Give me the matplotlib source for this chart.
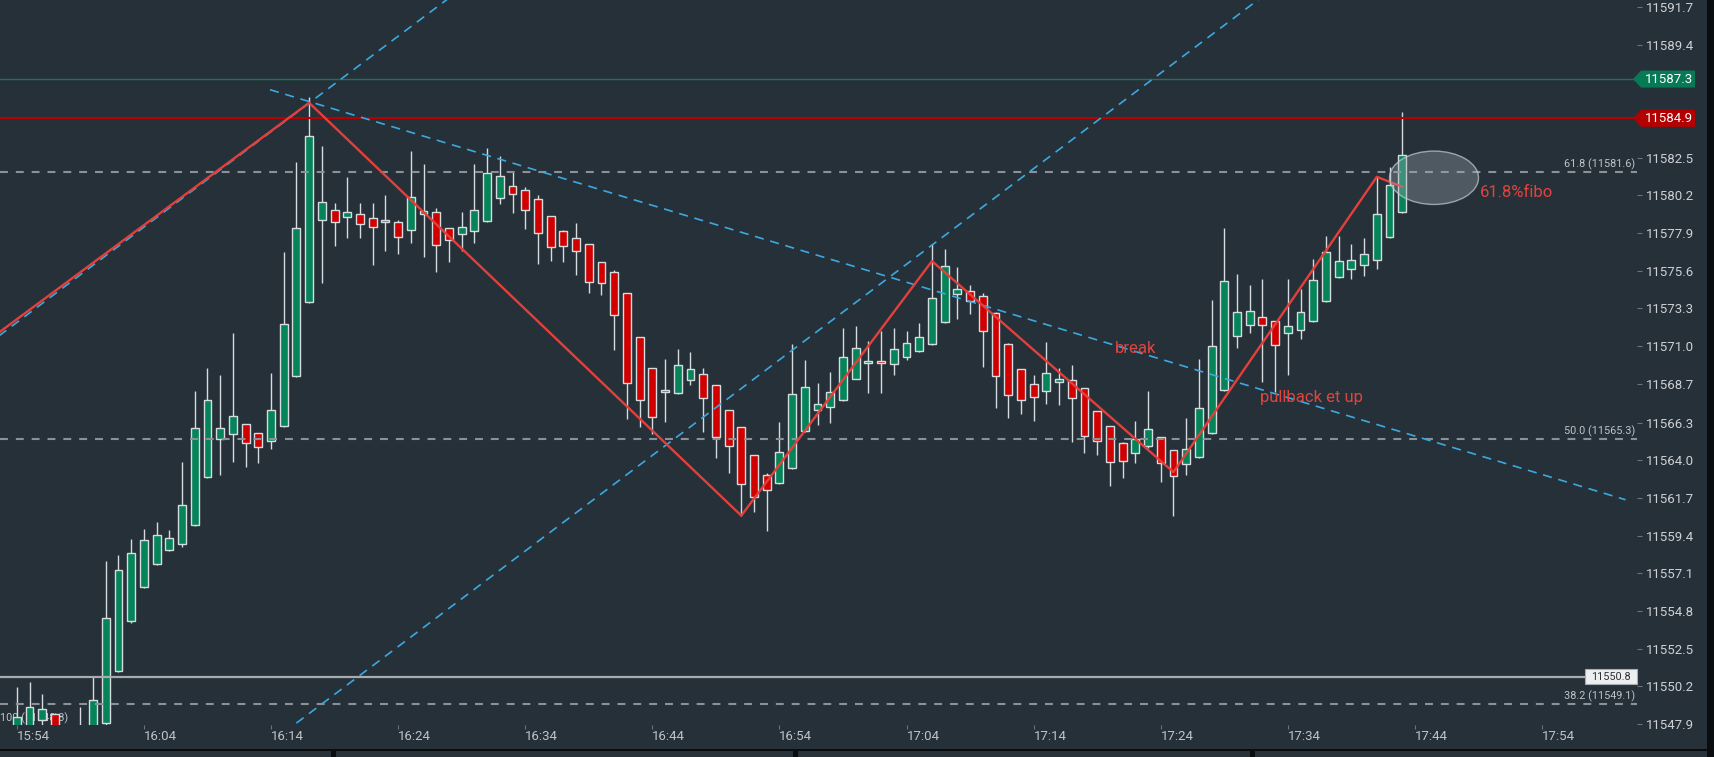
import numpy as np
import matplotlib.pyplot as plt
from matplotlib.patches import Ellipse, Polygon, Rectangle
from matplotlib import transforms

plt.rcParams['font.family'] = ['Roboto', 'DejaVu Sans']

# ---- data (1-minute candles from 15:54) ----
opens = [11547.3, 11547.5, 11548.15, 11548.5, 11547.0, 11546.8, 11547.6, 11547.95, 11551.14, 11554.17,
         11556.25, 11557.66, 11558.51, 11558.88, 11560.04, 11562.97, 11565.29, 11565.60, 11566.21, 11565.66,
         11565.17, 11566.09, 11569.18, 11573.66, 11578.67, 11579.28, 11578.85, 11579.04, 11578.79, 11578.55,
         11578.55, 11578.06, 11579.04, 11579.16, 11578.18, 11577.82, 11578.00, 11578.61, 11580.01, 11580.75,
         11580.50, 11579.95, 11578.91, 11578.00, 11577.57, 11577.20, 11576.10, 11575.49, 11574.21, 11571.52,
         11569.63, 11568.16, 11568.10, 11568.90, 11569.26, 11568.59, 11567.06, 11566.03, 11564.31, 11563.09,
         11562.60, 11563.52, 11565.78, 11567.06, 11567.25, 11567.67, 11568.96, 11569.93, 11570.05, 11569.87,
         11570.30, 11570.67, 11571.10, 11572.44, 11574.15, 11574.33, 11574.03, 11573.00, 11571.10, 11569.57,
         11568.65, 11568.22, 11568.77, 11568.90, 11568.41, 11567.00, 11566.09, 11565.05, 11564.44, 11564.86,
         11565.42, 11564.62, 11563.76, 11564.19, 11565.66, 11568.29, 11571.58, 11572.25, 11572.74, 11572.50,
         11571.77, 11571.95, 11572.50, 11573.72, 11575.20, 11575.68, 11575.92, 11576.23, 11577.63, 11579.16]
highs = [11550.16, 11550.45, 11549.73, 11548.6, 11547.5, 11548.96, 11550.79, 11557.86, 11558.22, 11559.18,
         11559.81, 11560.22, 11559.75, 11563.89, 11568.24, 11569.63, 11569.22, 11571.77, 11566.25, 11565.70,
         11569.32, 11576.72, 11582.21, 11586.22, 11583.21, 11579.71, 11581.30, 11579.71, 11579.71, 11580.20,
         11578.69, 11582.90, 11582.11, 11579.40, 11578.22, 11579.16, 11582.11, 11583.07, 11582.58, 11581.66,
         11580.69, 11580.20, 11578.95, 11578.05, 11578.49, 11577.25, 11576.15, 11575.63, 11574.25, 11571.55,
         11569.65, 11570.22, 11570.81, 11570.62, 11569.65, 11568.62, 11567.10, 11566.05, 11564.35, 11563.21,
         11566.33, 11571.10, 11570.12, 11568.71, 11569.39, 11572.07, 11572.19, 11571.28, 11571.89, 11572.07,
         11571.89, 11572.38, 11577.20, 11576.92, 11575.82, 11574.70, 11574.21, 11573.05, 11571.15, 11569.60,
         11569.20, 11571.22, 11569.63, 11569.81, 11568.45, 11567.05, 11566.10, 11565.10, 11566.39, 11568.22,
         11565.45, 11564.65, 11566.57, 11570.18, 11573.78, 11578.18, 11575.39, 11574.72, 11575.07, 11572.55,
         11575.07, 11574.46, 11576.29, 11577.69, 11577.69, 11577.20, 11577.57, 11581.30, 11581.91, 11585.27]
lows = [11546.8, 11547.0, 11547.5, 11547.2, 11546.5, 11546.3, 11547.2, 11547.6, 11551.1, 11554.1,
        11556.2, 11557.6, 11558.45, 11558.73, 11560.0, 11562.9, 11563.11, 11563.92, 11563.62, 11563.86,
        11564.72, 11566.05, 11569.1, 11573.6, 11574.86, 11577.12, 11577.61, 11577.61, 11575.96, 11576.80,
        11576.63, 11577.30, 11576.45, 11575.53, 11576.14, 11576.81, 11577.30, 11578.55, 11579.65, 11579.13,
        11578.16, 11576.02, 11576.20, 11576.14, 11575.35, 11574.25, 11574.13, 11570.77, 11566.55, 11566.06,
        11565.63, 11566.37, 11568.05, 11568.63, 11565.76, 11564.17, 11563.25, 11560.63, 11560.87, 11559.70,
        11562.55, 11563.50, 11565.75, 11566.15, 11566.27, 11567.65, 11568.95, 11568.14, 11568.14, 11569.24,
        11570.15, 11570.65, 11571.05, 11572.40, 11572.66, 11572.93, 11569.69, 11567.18, 11566.61, 11566.86,
        11566.43, 11567.43, 11567.37, 11565.14, 11564.47, 11564.35, 11562.46, 11562.95, 11563.86, 11564.74,
        11562.67, 11560.63, 11563.09, 11564.15, 11565.60, 11568.25, 11570.85, 11571.77, 11568.81, 11568.20,
        11569.24, 11571.44, 11572.45, 11573.70, 11575.13, 11575.07, 11575.25, 11575.71, 11577.60, 11579.10]
closes = [11548.33, 11548.96, 11548.8, 11547.6, 11547.3, 11547.6, 11549.37, 11554.36, 11557.29, 11558.33,
          11559.12, 11559.43, 11559.24, 11561.26, 11565.96, 11567.67, 11565.96, 11566.70, 11565.05, 11564.80,
          11567.06, 11572.32, 11578.18, 11583.80, 11579.77, 11578.55, 11579.16, 11578.43, 11578.24, 11578.67,
          11577.63, 11580.07, 11579.22, 11577.14, 11577.45, 11578.24, 11579.28, 11581.54, 11581.36, 11580.26,
          11579.28, 11577.88, 11577.02, 11577.08, 11576.78, 11574.88, 11574.82, 11572.87, 11568.71, 11567.67,
          11566.64, 11568.30, 11569.81, 11569.57, 11567.80, 11565.45, 11564.86, 11562.54, 11561.75, 11562.18,
          11564.50, 11568.04, 11568.47, 11567.43, 11568.16, 11570.30, 11570.85, 11570.05, 11569.93, 11570.79,
          11571.16, 11571.52, 11573.90, 11575.86, 11574.46, 11573.72, 11571.89, 11569.14, 11567.98, 11567.67,
          11567.86, 11569.32, 11568.96, 11567.80, 11565.48, 11565.17, 11563.89, 11563.95, 11565.29, 11565.90,
          11563.83, 11563.03, 11564.68, 11567.19, 11570.97, 11574.94, 11573.05, 11573.11, 11572.25, 11571.03,
          11572.19, 11573.05, 11575.00, 11576.72, 11576.17, 11576.23, 11576.59, 11579.04, 11580.81, 11582.64]

time_ticks = [0, 10, 20, 30, 40, 50, 60, 70, 80, 90, 100, 110, 120]
time_labels = ['15:54', '16:04', '16:14', '16:24', '16:34', '16:44', '16:54',
               '17:04', '17:14', '17:24', '17:34', '17:44', '17:54']
# 11587.1 and 11584.8 sit under the level badges, so they carry no label
price_ticks = [11591.7, 11589.4, 11587.1, 11584.8, 11582.5, 11580.2, 11577.9, 11575.6, 11573.3, 11571.0,
               11568.7, 11566.3, 11564.0, 11561.7, 11559.4, 11557.1, 11554.8, 11552.5, 11550.2, 11547.9]
hidden_ticks = [11587.1, 11584.8]

fib_pcts = ['61.8', '50.0', '38.2']
fib_prices = [11581.6, 11565.3, 11549.1]
green_level = 11587.3
red_level = 11584.9
gray_level = 11550.8

# zigzag (minutes from 15:54, price)
zz_minutes = [-3, 23, 57, 72, 91, 107, 109]
zz_prices = [11570.90, 11585.85, 11560.63, 11576.18, 11563.29, 11581.33, 11580.72]
# dashed trend / channel lines
trend_lines = [
    ([-3, 34], [11570.68, 11592.25]),
    ([20, 98], [11546.79, 11592.34]),
    ([19.92, 126.57], [11586.65, 11561.60]),
]

BG = '#263038'
GREEN = '#05845a'
RED = '#d10000'
WICK = '#d6dbdf'
TXT = '#cdd1d5'

W, H = 1714, 757
fig = plt.figure(figsize=(W / 100, H / 100), dpi=100, facecolor=BG)
ax = fig.add_axes([0, 32 / H, 1637 / W, 725 / H])
ax.set_facecolor(BG)
for s in ax.spines.values():
    s.set_visible(False)
ax.set_xlim(-1.322, 127.47)
ax.set_ylim(11547.84, 11592.13)

# candles
o, h, l, c = map(np.array, (opens, highs, lows, closes))
t = np.arange(len(o))
up = c >= o
ax.vlines(t, l, h, color=WICK, lw=1.0, zorder=2)
body = np.maximum(np.abs(c - o), 0.12)
ax.bar(t, body, bottom=np.minimum(o, c), width=0.62, color=np.where(up, GREEN, RED),
       edgecolor=WICK, linewidth=1.0, zorder=3)

# horizontal levels
ax.axhline(green_level, color='#13785b', lw=1.0, zorder=4)
ax.axhline(red_level, color='#b80000', lw=1.5, zorder=4)
ax.axhline(gray_level, color='#a8acb0', lw=1.6, zorder=4)
for pct, p in zip(fib_pcts, fib_prices):
    ax.axhline(p, color='#8b9197', lw=1.5, ls=(0, (3.8, 3.8)), zorder=4)
    ax.text(127.3, p + 0.5, f'{pct} ({p:.1f})', color='#bfc4c8', fontsize=7.8,
            ha='right', va='center', zorder=4)

# trend lines and zigzag
for xs, ys in trend_lines:
    ax.plot(xs, ys, color='#3ba9de', lw=1.2, ls=(0, (5.5, 4)), zorder=5)
ax.plot(zz_minutes, zz_prices, color='#e3403c', lw=1.7, zorder=6)

ax.add_patch(Ellipse((111.5, 11581.27), 7.0, 3.26, fc=(0.62, 0.66, 0.70, 0.35),
                     ec=(0.78, 0.80, 0.82, 0.7), lw=1.0, zorder=7))
ax.text(115.1, 11580.34, '61.8%fibo', color='#e0443f', fontsize=12, va='center', zorder=8)
ax.text(86.4, 11570.87, 'break', color='#e0443f', fontsize=12, va='center', zorder=8)
ax.text(97.8, 11567.82, 'pullback et up', color='#e0443f', fontsize=12, va='center', zorder=8)
ax.text(-1.3, 11548.27, '100 (11548.8)', color='#bfc4c8', fontsize=7.8, va='center', zorder=1)

# axes ticks
ax.yaxis.tick_right()
ax.set_yticks(price_ticks)
ax.set_yticklabels(['' if v in hidden_ticks else f'{v:.1f}' for v in price_ticks])
ax.tick_params(axis='y', direction='out', length=3.6, width=0.8, color='#6c747b',
               pad=2.5, labelsize=9.5, labelcolor=TXT)
ax.set_xticks(time_ticks)
ax.set_xticklabels(time_labels)
ax.tick_params(axis='x', direction='out', length=3, width=0.8, color='#6c747b',
               pad=0.5, labelsize=9.5, labelcolor='#bfc3c7')
for lbl in ax.get_xticklabels():
    lbl.set_ha('left')

# price labels on the right axis
tr = transforms.blended_transform_factory(fig.transFigure, ax.transData)
hh = 0.52
for p, col in ((green_level, '#067a55'), (red_level, '#b30000')):
    pts = [(1633 / W, p), (1641 / W, p + hh), (1695 / W, p + hh), (1695 / W, p - hh), (1641 / W, p - hh)]
    fig.patches.append(Polygon(pts, closed=True, transform=tr, fc=col, ec='none', zorder=10))
    fig.text(1669 / W, p, f'{p:.1f}', transform=tr, color='white', fontsize=9.5,
             ha='center', va='center', zorder=11)
fig.patches.append(Rectangle((1585 / W, gray_level - 0.46), 52 / W, 0.92, transform=tr,
                             fc='#eceef0', ec='#a8acb0', lw=0.8, zorder=10))
fig.text(1611 / W, gray_level, f'{gray_level:.1f}', transform=tr, color='#2a2f35',
         fontsize=7.8, ha='center', va='center', zorder=11)

# window chrome
fig.patches.append(Rectangle((1707 / W, 0), 7 / W, 1, transform=fig.transFigure, fc='#0a0d10', zorder=0))
fig.patches.append(Rectangle((0, 0), 1, 8 / H, transform=fig.transFigure, fc='#0a0d10', zorder=0))
for x0, x1 in ((0, 331), (336, 793), (798, 1250), (1255, 1707)):
    fig.patches.append(Rectangle((x0 / W, 0), (x1 - x0) / W, 6 / H, transform=fig.transFigure,
                                 fc='#2a3239', zorder=0))

fig.savefig('out.png', dpi=100, facecolor=BG)
